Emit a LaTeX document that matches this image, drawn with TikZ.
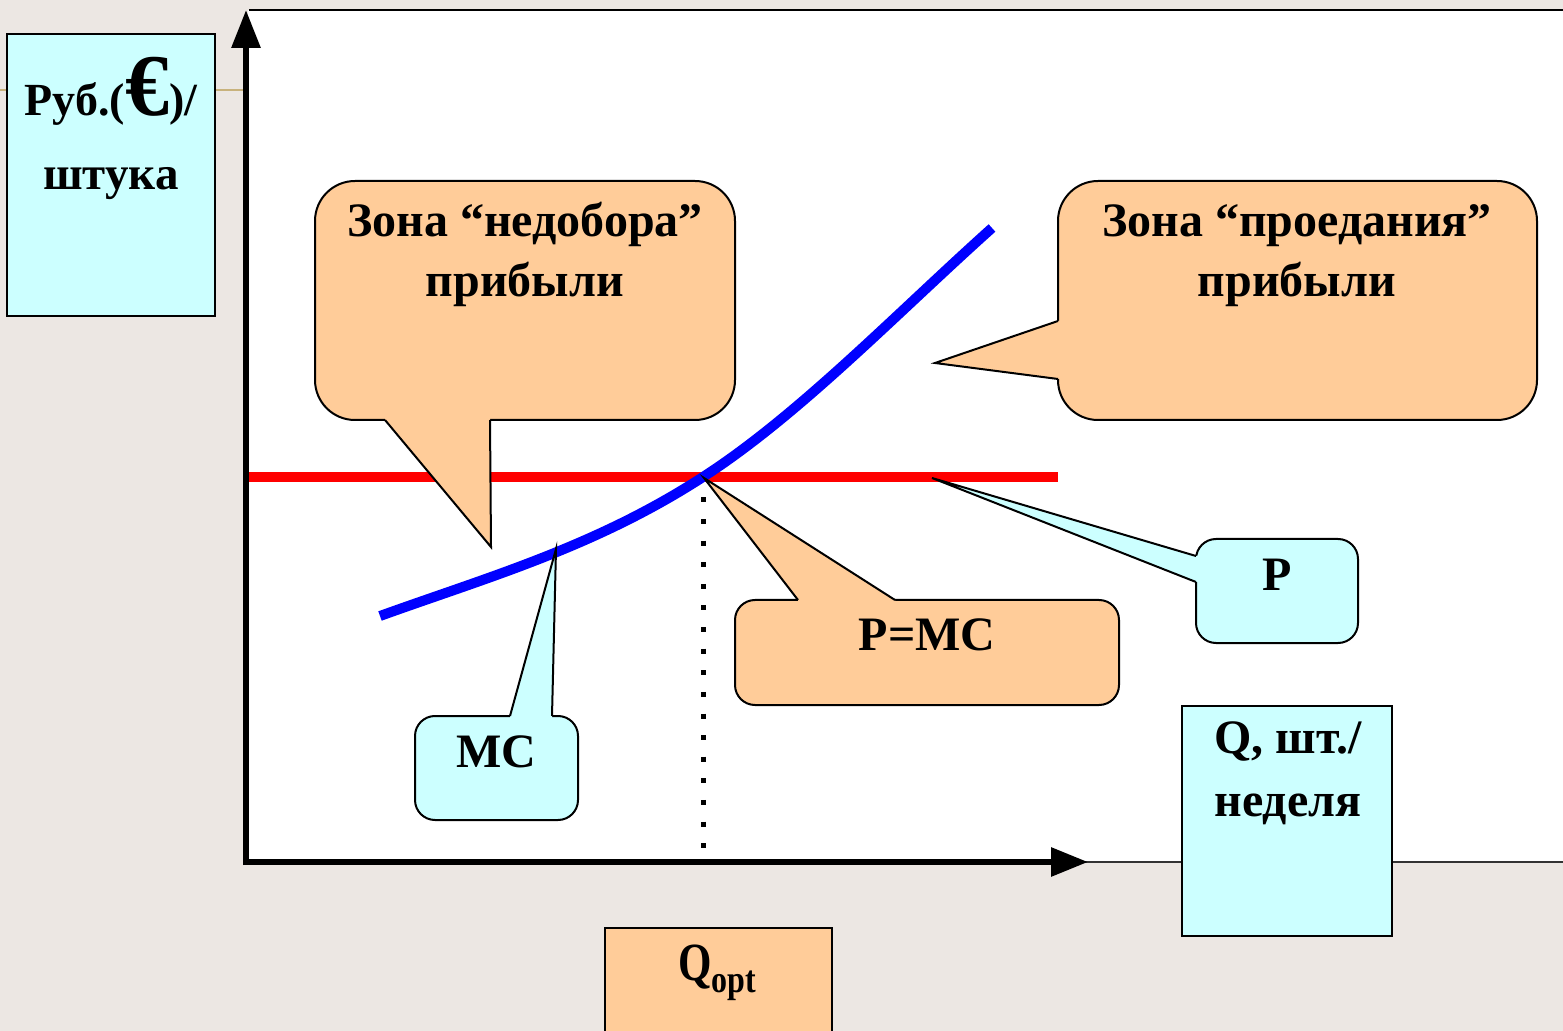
\documentclass[tikz,border=0pt]{standalone}
\usepackage{fontspec}
\usepackage{graphicx}
\setmainfont{Liberation Serif}
\usetikzlibrary{arrows.meta,calc}
\definecolor{bgcol}{HTML}{ECE7E3}
\definecolor{orng}{HTML}{FFCC99}
\definecolor{cyanbox}{HTML}{CCFFFF}
\definecolor{tanline}{HTML}{C8B27C}
\begin{document}
\begin{tikzpicture}[x=0.5pt,y=-0.5pt,
  txt/.style={font=\fontsize{24}{28}\selectfont\bfseries, inner sep=0pt, anchor=base},
  bodybox/.style={draw=black, line width=1pt, inner sep=0pt, outer sep=0pt},
  orangebody/.style={bodybox, fill=orng},
  cyanbody/.style={bodybox, fill=cyanbox},
  tailline/.style={draw=black, line width=1pt, line join=miter},
  axisline/.style={line width=3pt, line cap=butt},
  curveline/.style={line width=5pt, line cap=butt}]
% frame
\useasboundingbox (0,0) rectangle (1563,1031);
\fill[bgcol] (0,0) rectangle (1563,1031);
\fill[white] (248,10) rectangle (1563,862);
\coordinate (ftl) at (249,10);
\coordinate (ftr) at (1563,10);
\draw[line width=1.2pt] (ftl) -- (ftr);
\coordinate (fbl) at (1060,862);
\coordinate (fbr) at (1563,862);
\draw[line width=0.6pt, black!80] (fbl) -- (fbr);
\coordinate (tl1) at (0,90);
\coordinate (tl2) at (243,90);
\draw[tanline, line width=0.7pt] (tl1) -- (tl2);

% price line and MC curve
\coordinate (pl) at (248,477);
\coordinate (pr) at (1058,477);
\draw[red, curveline] (pl) -- (pr);
\coordinate (mcs) at (380,616);
\coordinate (mcm) at (703,477);
\coordinate (mce) at (992,228);
\draw[blue, curveline] (mcs) .. controls (488,577) and (595,547) .. (mcm)
  .. controls (799,415) and (896,314) .. (mce);

% dotted line at Qopt
\coordinate (dtop) at (703,497.5);
\coordinate (dbot) at (703,848);
\draw[line width=2.5pt, dash pattern=on 2.5pt off 8.3pt] (dtop) -- (dbot);

% axes
\coordinate (O) at (246,865);
\coordinate (Ox) at (243,862);
\coordinate (ytip) at (246,10);
\coordinate (xtip) at (1088,862);
\draw[axisline, -{Triangle[length=19pt,width=14pt]}] (O) -- (ytip);
\draw[axisline, -{Triangle[length=18.5pt,width=14pt]}] (Ox) -- (xtip);

% Y-axis label box
\node[cyanbody, minimum width=104pt, minimum height=141pt] (ybox) at (111,175) {};
\node[txt, font=\fontsize{23}{28}\selectfont\bfseries] (ylab1) at (111,116) {Руб.({\fontsize{44}{44}\selectfont €})/};
\node[txt, font=\fontsize{23.5}{28}\selectfont\bfseries] (ylab2) at (111,190) {штука};

% left callout
\node[orangebody, rounded corners=20pt, minimum width=210pt, minimum height=119.5pt] (lcall) at (525,300.5) {};
\coordinate (la) at (385,420);
\coordinate (lb) at (490,420);
\coordinate (ltip) at (491,547);
\fill[orng] ($(la)+(0,-3)$) -- (la) -- (ltip) -- (lb) -- ($(lb)+(0,-3)$) -- cycle;
\draw[tailline] (la) -- (ltip) -- (lb);
\node[txt] (ltxt1) at (525,237) {Зона “недобора”};
\node[txt] (ltxt2) at (525,297) {прибыли};

% right callout
\node[orangebody, rounded corners=20pt, minimum width=239.5pt, minimum height=119.5pt] (rcall) at (1297.5,300.5) {};
\coordinate (ra) at (1058,321);
\coordinate (rb) at (1058,379);
\coordinate (rtip) at (935,363);
\fill[orng] ($(ra)+(3,0)$) -- (ra) -- (rtip) -- (rb) -- ($(rb)+(3,0)$) -- cycle;
\draw[tailline] (ra) -- (rtip) -- (rb);
\node[txt] (rtxt1) at (1297,237) {Зона “проедания”};
\node[txt] (rtxt2) at (1297,297) {прибыли};

% P=MC callout
\node[orangebody, rounded corners=10pt, minimum width=192pt, minimum height=52.5pt] (pmc) at (927,652.5) {};
\coordinate (pma) at (798,600);
\coordinate (pmb) at (895,600);
\coordinate (pmtip) at (704,478);
\fill[orng] ($(pma)+(0,3)$) -- (pma) -- (pmtip) -- (pmb) -- ($(pmb)+(0,3)$) -- cycle;
\draw[tailline] (pma) -- (pmtip) -- (pmb);
\node[txt] (pmctxt) at (927,650) {P=MC};

% P callout
\node[cyanbody, rounded corners=10pt, minimum width=81pt, minimum height=52pt] (pcall) at (1277,591) {};
\coordinate (pa) at (1196,556);
\coordinate (pb) at (1196,582);
\coordinate (ptip) at (932,478);
\fill[cyanbox] ($(pa)+(3,0)$) -- (pa) -- (ptip) -- (pb) -- ($(pb)+(3,0)$) -- cycle;
\draw[tailline] (pa) -- (ptip) -- (pb);
\node[txt] (ptxt) at (1277,590) {P};

% MC callout
\node[cyanbody, rounded corners=10pt, minimum width=81.5pt, minimum height=52pt] (mccall) at (496.5,768) {};
\coordinate (ma) at (510,716);
\coordinate (mb) at (552,716);
\coordinate (mtip) at (556,549);
\fill[cyanbox] ($(ma)+(0,3)$) -- (ma) -- (mtip) -- (mb) -- ($(mb)+(0,3)$) -- cycle;
\draw[tailline] (ma) -- (mtip) -- (mb);
\node[txt] (mctxt) at (496.5,767) {MC};

% Q axis label box
\node[cyanbody, minimum width=105pt, minimum height=115pt] (qbox) at (1287,821) {};
\node[txt] (qtxt1) at (1288,753) {Q, шт./};
\node[txt] (qtxt2) at (1288,816) {неделя};

% Qopt box
\node[orangebody, minimum width=113.5pt, minimum height=58.5pt] (qopt) at (718.5,986.5) {};
\node[txt, anchor=base west] (qopttxt) at (678,980) {\scalebox{1}[1.25]{\fontsize{21.5}{24}\selectfont Q}\raisebox{-6pt}{\scalebox{1}[1.2]{\fontsize{16}{18}\selectfont opt}}};
\end{tikzpicture}
\end{document}
